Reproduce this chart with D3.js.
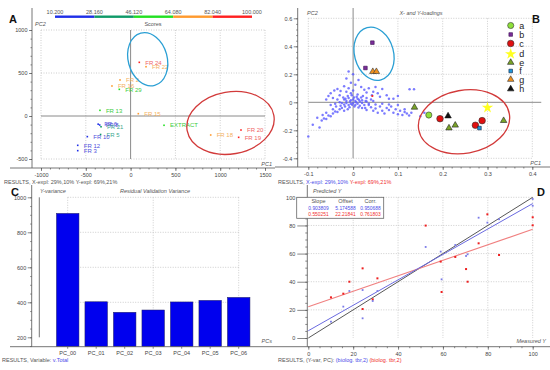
<!DOCTYPE html>
<html lang="en">
<head>
<meta charset="UTF-8">
<title>PLS model panels</title>
<script src="https://d3js.org/d3.v7.min.js"></script>
<style>
  body { margin: 0; background: #fff; }
  svg { font-family: "Liberation Sans", Arial, sans-serif; display: block; }
  .tick text { font-size: 5.5px; fill: #444; }
  .tick line { stroke: #555; stroke-width: 0.7; }
  .frame { stroke: #666; stroke-width: 0.9; }
  .grid { stroke: #b8b8b8; stroke-width: 0.7; stroke-dasharray: 1,1.5; }
  .cross { stroke: #8a8a8a; stroke-width: 1; }
  .name { font-size: 5.5px; fill: #555; font-style: italic; }
  .foot { font-size: 5.5px; fill: #555; }
  .letter { font-size: 11px; font-weight: bold; fill: #111; }
</style>
</head>
<body>
<script>
// ---------- data ----------
// A: scores
const scaleCuts = [10.2, 28.16, 46.12, 64.08, 82.04, 100];
const scaleColors = ["#1f2fe8", "#0f9a68", "#22e022", "#ff9a2e", "#ff2020"];
const labelColors = ["#5050dc", "#40a890", "#3ccc3c", "#f4b060", "#f06464"];
const scoreNames = ["FR 24", "FR 22", "FR 2", "FR 16", "FR 29", "FR 13", "FR 15", "EXTRACT",
  "FR 20", "FR 19", "FR 18", "FR 6", "FR 8", "FR 21", "FR 5", "FR 10", "FR 12", "FR 3"];
const scorePC1 = [97, 172, -118, -208, -126, -342, 86, 373, 1232, 1206, 894, -362, -345, -330, -335, -483, -590, -590];
const scorePC2 = [624, 573, 419, 349, 310, 66, 27, -108, -163, -248, -221, -95, -105, -125, -215, -240, -341, -403];
const scoreGroup = [4, 3, 3, 3, 2, 2, 3, 2, 4, 4, 3, 0, 0, 1, 1, 0, 0, 0];

// B: X- and Y-loadings
const xLoadings = [
  [-0.02,0.02],[-0.015,0.01],[-0.01,0.03],[-0.005,0.015],[0,0.02],[0.005,0.01],[0.01,0.025],[0.015,0.005],
  [0.02,0.015],[-0.025,-0.005],[-0.02,-0.015],[-0.015,-0.005],[-0.01,-0.02],[-0.005,-0.01],[0,-0.005],
  [0.005,-0.02],[0.01,-0.01],[0.015,-0.025],[0.02,-0.005],[-0.012,0.045],[-0.003,0.05],[0.008,0.04],
  [0.018,0.035],[-0.022,0.035],[-0.03,0],[-0.028,-0.025],[-0.018,-0.03],[-0.008,-0.035],[0.003,-0.03],
  [0.012,-0.038],[0.025,-0.02],[0.028,0.01],[0.03,0.03],[0.002,0.035],[-0.007,0.005],[0.007,0],
  [-0.002,-0.018],[0.013,0.018],[-0.017,0.025],[0.022,0.045],[-0.035,0.02],[-0.04,-0.01],[0.035,-0.01],
  [0.04,0.02],[-0.005,0.065],[0.01,0.055],[-0.03,0.05],[0.027,-0.04],
  [-0.01,0.22],[0,0.2],[-0.015,0.17],[0.012,0.16],[-0.005,0.14],[0.005,0.125],[-0.02,0.115],[0.018,0.11],
  [-0.035,0.095],[-0.042,0.085],[-0.028,0.08],[-0.01,0.1],[0.025,0.09],[0.035,0.1],[0.045,0.075],
  [0.055,0.065],[0.065,0.095],[0.03,0.07],[-0.015,0.075],[0,0.085],[-0.05,0.065],[-0.055,0.045],
  [-0.045,0.03],[-0.06,0.02],[0.042,0.05],[0.06,0.04],[0.075,0.05],[0.05,0.11],[0.08,0.025],[0.1,0.045],
  [0.09,0.025],[0.126,0.093],[0.136,0.093],
  [-0.1,-0.245],[-0.09,-0.16],[-0.075,-0.18],[-0.07,-0.13],[-0.065,-0.115],[-0.06,-0.12],[-0.055,-0.095],
  [-0.05,-0.1],[-0.045,-0.08],[-0.04,-0.065],[-0.035,-0.07],[-0.03,-0.05],[-0.025,-0.04],[-0.045,-0.05],
  [-0.06,-0.075],[-0.068,-0.09],[-0.08,-0.11],[-0.038,-0.03],[-0.05,-0.02],[-0.02,-0.06],[-0.012,-0.05],
  [0.02,-0.04],[0.03,-0.055],[0.04,-0.035],[0.045,-0.06],[0.05,-0.045],[0.055,-0.075],[0.06,-0.03],
  [0.065,-0.06],[0.07,-0.08],[0.075,-0.04],[0.08,-0.055],[0.085,-0.03],[0.09,-0.075],[0.095,-0.05],
  [0.1,-0.085],[0.105,-0.06],[0.11,-0.09],[0.115,-0.07],[0.12,-0.08],[0.125,-0.095],[0.13,-0.075],
  [0.115,-0.05],[0.05,-0.015],[0.065,-0.01],[0.08,-0.015],[0.035,-0.02],[0.159,-0.074],[0.15,-0.1],
  [0.1,-0.02],[0.03,0.005],[0.045,0.01]
];
const legendKeys = ["a", "b", "c", "d", "e", "f", "g", "h"];
const yLoadKey = ["b", "b", "g", "g", "e", "e", "e", "e", "a", "c", "c", "c", "h", "f", "d"];
const yLoadPC1 = [0.043, 0.0275, 0.044, 0.052, 0.137, 0.214, 0.228, 0.336, 0.169, 0.194, 0.273, 0.288, 0.212, 0.282, 0.300];
const yLoadPC2 = [0.426, 0.245, 0.219, 0.219, -0.036, -0.184, -0.164, -0.131, -0.091, -0.117, -0.164, -0.131, -0.098, -0.184, -0.038];

// C: residual validation variance
const pcNames = ["PC_00", "PC_01", "PC_02", "PC_03", "PC_04", "PC_05", "PC_06"];
const resVariance = [908, 403, 343, 356, 402, 411, 428];

// D: predicted vs measured
const measuredY = [10.1, 15.6, 18.3, 24.2, 24.2, 28.7, 30.8, 52.3, 59, 59.4, 65.5, 70.3, 71, 75.9, 79.8, 85, 100, 100];
const predBlue = [11.6, 22.3, 33.4, 34.1, 14.0, 26.3, 33.4, 64.7, 61.4, 41.7, 66.1, 58.3, 59.5, 85.5, 82, 84.4, 98.8, 94];
const predRed = [28.9, 31.5, 40, 49.5, 20.6, 27.5, 42.4, 79.9, 54.3, 32.7, 57.6, 49, 40, 67.3, 87.9, 59, 85.8, 80.1];
const statHeads = ["Slope", "Offset", "Corr."];
const statBlue = [0.903809, 5.174588, 0.950688];
const statRed = [0.550251, 22.21841, 0.761803];

// ---------- drawing ----------
const svg = d3.select("body").append("svg").attr("width", 550).attr("height", 370);
const defs = svg.append("defs");
const str = d => String(+(+d).toFixed(3));

function clip(id, x, y, w, h) {
  defs.append("clipPath").attr("id", id).append("rect").attr("x", x).attr("y", y).attr("width", w).attr("height", h);
  return svg.append("g").attr("clip-path", `url(#${id})`);
}
function axis(g, gen, tx, ty) {
  const a = g.append("g").attr("transform", `translate(${tx},${ty})`).call(gen);
  a.select(".domain").remove();
  return a;
}
function line(g, cls, x1, y1, x2, y2) {
  return g.append("line").attr("class", cls).attr("x1", x1).attr("y1", y1).attr("x2", x2).attr("y2", y2);
}
function text(g, cls, x, y, s, anchor) {
  return g.append("text").attr("class", cls).attr("x", x).attr("y", y).attr("text-anchor", anchor || "start").text(s);
}
function ring(g, cx, cy, rx, ry, rot, color) {
  g.append("ellipse").attr("transform", `translate(${cx},${cy}) rotate(${rot})`)
    .attr("rx", rx).attr("ry", ry).attr("fill", "none").attr("stroke", color).attr("stroke-width", 1.3);
}

// ===== Panel A =====
const gA = clip("clipA", 0, 0, 275, 185);
const xA = d3.scaleLinear().domain([-1000, 1500]).range([41, 265]);
const yA = d3.scaleLinear().domain([-500, 1000]).range([159, 30]);

gA.selectAll("line.gx").data([-1000, -500, 500, 1000, 1500]).enter().append("line").attr("class", "grid")
  .attr("x1", xA).attr("x2", xA).attr("y1", yA(1000)).attr("y2", yA(-500));
gA.selectAll("line.gy").data([1000, 500, -500]).enter().append("line").attr("class", "grid")
  .attr("x1", xA(-1000)).attr("x2", xA(1500)).attr("y1", yA).attr("y2", yA);
line(gA, "cross", xA(0), yA(1000), xA(0), yA(-500));
line(gA, "cross", xA(-1000), yA(0), xA(1500), yA(0));

line(gA, "frame", 32, 8, 32, 168);
line(gA, "frame", 10, 168, 275, 168);
axis(gA, d3.axisLeft(yA).tickValues([-500, 0, 500, 1000]).tickSize(3).tickPadding(1.5).tickFormat(str), 32, 0);
axis(gA, d3.axisLeft(yA).tickValues(d3.range(-500, 1001, 100)).tickSize(1.5).tickFormat(""), 32, 0);
axis(gA, d3.axisBottom(xA).tickValues(d3.range(-1000, 1501, 500)).tickSize(3).tickPadding(2).tickFormat(str), 0, 168);
axis(gA, d3.axisBottom(xA).tickValues(d3.range(-1000, 1501, 100)).tickSize(1.5).tickFormat(""), 0, 168);

// colour bar
const xSeg = d3.scaleLinear().domain([0, 5]).range([55, 252]);
gA.selectAll("rect.seg").data(scaleColors).enter().append("rect")
  .attr("x", (d, i) => xSeg(i)).attr("width", (d, i) => xSeg(i + 1) - xSeg(i))
  .attr("y", 15.5).attr("height", 2.4).attr("fill", d => d);
gA.selectAll("text.cut").data(scaleCuts).enter().append("text").attr("class", "foot")
  .attr("x", (d, i) => xSeg(i)).attr("y", 13.5).attr("text-anchor", "middle").text(d3.format(".3f"));

text(gA, "name", 35, 26, "PC2");
text(gA, "foot", 153, 26, "Scores", "middle");
text(gA, "name", 272, 166, "PC1", "end");

gA.selectAll("rect.pt").data(scoreNames).enter().append("rect")
  .attr("x", (d, i) => xA(scorePC1[i]) - 0.8).attr("y", (d, i) => yA(scorePC2[i]) - 0.8)
  .attr("width", 1.6).attr("height", 1.6).attr("fill", (d, i) => scaleColors[scoreGroup[i]]);
gA.selectAll("text.lab").data(scoreNames).enter().append("text")
  .attr("x", (d, i) => xA(scorePC1[i]) + 6).attr("y", (d, i) => yA(scorePC2[i]) + 2.2)
  .attr("font-size", "6px").attr("fill", (d, i) => labelColors[scoreGroup[i]]).text(d => d);

ring(gA, xA(191), yA(660), 19.5, 27, -15, "#2a9fd4");
ring(gA, xA(1115), yA(-81), 44, 31, -10, "#d23a3a");

text(svg, "letter", 9, 23, "A");
svg.append("text").attr("class", "foot").attr("x", 4).attr("y", 183.5)
  .text("RESULTS, X-expl: 29%,10% Y-expl: 69%,21%");

// ===== Panel B =====
const gB = clip("clipB", 275, 0, 275, 185);
const xB = d3.scaleLinear().domain([-0.1, 0.4]).range([308.3, 532.3]);
const yB = d3.scaleLinear().domain([-0.4, 0.6]).range([158.3, 18.3]);

gB.selectAll("line.gx").data([-0.1, 0.1, 0.2, 0.3, 0.4]).enter().append("line").attr("class", "grid")
  .attr("x1", xB).attr("x2", xB).attr("y1", yB(0.6)).attr("y2", yB(-0.4));
gB.selectAll("line.gy").data([0.6, 0.4, 0.2, -0.2, -0.4]).enter().append("line").attr("class", "grid")
  .attr("x1", xB(-0.1)).attr("x2", xB(0.4)).attr("y1", yB).attr("y2", yB);
line(gB, "cross", xB(0), 8, xB(0), yB(-0.4));
line(gB, "cross", xB(-0.1), yB(0), xB(0.42), yB(0));

line(gB, "frame", 297.7, 8, 297.7, 167);
line(gB, "frame", 275, 167, 550, 167);
axis(gB, d3.axisLeft(yB).tickValues([-0.4, -0.2, 0, 0.2, 0.4, 0.6]).tickSize(4).tickPadding(1.5).tickFormat(str), 297.7, 0);
axis(gB, d3.axisLeft(yB).tickValues(d3.range(-0.4, 0.61, 0.04)).tickSize(1.5).tickFormat(""), 297.7, 0);
axis(gB, d3.axisBottom(xB).tickValues([-0.1, 0, 0.1, 0.2, 0.3, 0.4]).tickSize(3).tickPadding(2).tickFormat(str), 0, 167);
axis(gB, d3.axisBottom(xB).tickValues(d3.range(-0.1, 0.41, 0.02)).tickSize(1.5).tickFormat(""), 0, 167);

text(gB, "name", 307, 15, "PC2");
text(gB, "name", 421, 15, "X- and Y-loadings", "middle");
text(gB, "name", 541, 165, "PC1", "end");

gB.selectAll("circle.xl").data(xLoadings).enter().append("circle")
  .attr("cx", d => xB(d[0])).attr("cy", d => yB(d[1])).attr("r", 1.25)
  .attr("fill", "#5a5aff").attr("fill-opacity", 0.8);
gB.append("circle").attr("cx", xB(0.043)).attr("cy", yB(0.045)).attr("r", 1.1).attr("fill", "#ff2020");

const keyStyle = {
  a: { shape: d3.symbolCircle, size: 30, fill: "#8ee03a", stroke: "#333" },
  b: { shape: d3.symbolSquare, size: 13, fill: "#7b2c9a", stroke: "#3a1050" },
  c: { shape: d3.symbolCircle, size: 34, fill: "#e01010", stroke: "#333" },
  d: { shape: d3.symbolStar, size: 40, fill: "#ffff20", stroke: "none" },
  e: { shape: d3.symbolTriangle, size: 18, fill: "#7aa428", stroke: "#222" },
  f: { shape: d3.symbolSquare, size: 13, fill: "#1e96d8", stroke: "#124" },
  g: { shape: d3.symbolTriangle, size: 18, fill: "#f0901c", stroke: "#333" },
  h: { shape: d3.symbolTriangle, size: 18, fill: "#111", stroke: "#111" }
};
const sym = k => d3.symbol().type(keyStyle[k].shape).size(keyStyle[k].size)();

gB.selectAll("path.yl").data(yLoadKey).enter().append("path")
  .attr("transform", (d, i) => `translate(${xB(yLoadPC1[i])},${yB(yLoadPC2[i])})`)
  .attr("d", sym).attr("fill", d => keyStyle[d].fill)
  .attr("stroke", d => keyStyle[d].stroke).attr("stroke-width", 0.6);

ring(gB, xB(0.0467), yB(0.347), 19.5, 27, -15, "#2a9fd4");
ring(gB, xB(0.2476), yB(-0.139), 46, 31.5, -10, "#d23a3a");

const legY = [25.5, 34.5, 43.5, 54, 62.5, 71, 79.5, 89];
const leg = gB.selectAll("g.leg").data(legendKeys).enter().append("g")
  .attr("transform", (d, i) => `translate(510.7,${legY[i]})`);
leg.append("path").attr("d", sym).attr("fill", d => keyStyle[d].fill)
  .attr("stroke", d => keyStyle[d].stroke).attr("stroke-width", 0.6);
leg.append("text").attr("x", 8.5).attr("y", 3.2).attr("font-size", "9px").attr("fill", "#222").text(d => d);

text(svg, "letter", 532, 23, "B");
const footB = svg.append("text").attr("class", "foot").attr("x", 278).attr("y", 183.5);
footB.append("tspan").text("RESULTS, ");
footB.append("tspan").attr("fill", "#4a4ae8").text("X-expl: 29%,10%");
footB.append("tspan").attr("fill", "#f03030").text(" Y-expl: 69%,21%");

// ===== Panel C =====
const gC = clip("clipC", 0, 185, 275, 185);
const yC = d3.scaleLinear().domain([200, 1000]).range([337.3, 197.3]);
const xC = d3.scaleBand().domain(pcNames).range([53.45, 252.95]).paddingInner(0.21).paddingOuter(0.105);
const baseC = 346.7;

gC.selectAll("line.gy").data([1000, 800, 600, 400]).enter().append("line").attr("class", "grid")
  .attr("x1", xC("PC_00") + xC.bandwidth() / 2).attr("x2", xC("PC_06") + xC.bandwidth() / 2)
  .attr("y1", yC).attr("y2", yC);
gC.selectAll("line.gx").data(["PC_00", "PC_03", "PC_06"]).enter().append("line").attr("class", "grid")
  .attr("x1", d => xC(d) + xC.bandwidth() / 2).attr("x2", d => xC(d) + xC.bandwidth() / 2)
  .attr("y1", yC(1000)).attr("y2", baseC);

gC.selectAll("rect.bar").data(resVariance).enter().append("rect")
  .attr("x", (d, i) => xC(pcNames[i])).attr("width", xC.bandwidth())
  .attr("y", d => yC(d)).attr("height", d => baseC - yC(d))
  .attr("fill", "#0000ee").attr("stroke", "#202060").attr("stroke-width", 0.5);

line(gC, "frame", 31.7, 185, 31.7, baseC);
line(gC, "frame", 39.3, yC(1000), 39.3, yC(200));
line(gC, "frame", 10, baseC, 275, baseC);
axis(gC, d3.axisLeft(yC).tickValues([200, 400, 600, 800, 1000]).tickSize(4).tickPadding(1.5).tickFormat(str), 31.7, 0);
axis(gC, d3.axisLeft(yC).tickValues(d3.range(150, 1001, 50)).tickSize(1.5).tickFormat(""), 31.7, 0);
axis(gC, d3.axisBottom(xC).tickSize(2).tickPadding(2.5), 0, baseC);

text(gC, "name", 40, 193, "Y-variance");
text(gC, "name", 155, 193, "Residual Validation Variance", "middle");
text(gC, "name", 272, 343, "PCs", "end");

text(svg, "letter", 11, 196, "C");
const footC = svg.append("text").attr("class", "foot").attr("x", 2).attr("y", 361.5);
footC.append("tspan").text("RESULTS, Variable: ");
footC.append("tspan").attr("fill", "#4a4ae8").text("v.Total");

// ===== Panel D =====
const gD = clip("clipD", 275, 185, 275, 185);
const xD = d3.scaleLinear().domain([0, 100]).range([308.3, 532.7]);
const yD = d3.scaleLinear().domain([0, 100]).range([338, 197.3]);
const baseD = 346.7;

gD.selectAll("line.gx").data([20, 40, 60, 80, 100]).enter().append("line").attr("class", "grid")
  .attr("x1", xD).attr("x2", xD).attr("y1", yD(100)).attr("y2", yD(0));
gD.selectAll("line.gy").data([20, 40, 60, 80, 100]).enter().append("line").attr("class", "grid")
  .attr("x1", xD(0)).attr("x2", xD(100)).attr("y1", yD).attr("y2", yD);

line(gD, "frame", 307.3, 185, 307.3, baseD);
line(gD, "frame", 275, baseD, 550, baseD);
axis(gD, d3.axisLeft(yD).tickValues(d3.range(0, 101, 20)).tickSize(10).tickPadding(2).tickFormat(str), 307.3, 0);
axis(gD, d3.axisLeft(yD).tickValues(d3.range(0, 101, 5)).tickSize(2).tickFormat(""), 307.3, 0);
axis(gD, d3.axisBottom(xD).tickValues(d3.range(0, 101, 20)).tickSize(3).tickPadding(2).tickFormat(str), 0, baseD);
axis(gD, d3.axisBottom(xD).tickValues(d3.range(0, 101, 5)).tickSize(1.5).tickFormat(""), 0, baseD);

const fit = (slope, off) => [[0, off], [100, slope * 100 + off]];
const lineD = d3.line().x(d => xD(d[0])).y(d => yD(d[1]));
gD.append("path").attr("d", lineD([[0, 0], [100, 100]])).attr("stroke", "#444").attr("stroke-width", 0.9).attr("fill", "none");
gD.append("path").attr("d", lineD(fit(statRed[0], statRed[1]))).attr("stroke", "#f08080").attr("stroke-width", 1.1).attr("fill", "none");
gD.append("path").attr("d", lineD(fit(statBlue[0], statBlue[1]))).attr("stroke", "#6a6ae0").attr("stroke-width", 1).attr("fill", "none");

gD.selectAll("rect.pr").data(predRed).enter().append("rect")
  .attr("x", (d, i) => xD(measuredY[i]) - 1).attr("y", d => yD(d) - 1)
  .attr("width", 2).attr("height", 2).attr("fill", "#ee2020");
gD.selectAll("rect.pb").data(predBlue).enter().append("rect")
  .attr("x", (d, i) => xD(measuredY[i]) - 0.9).attr("y", d => yD(d) - 0.9)
  .attr("width", 1.8).attr("height", 1.8).attr("fill", "#7a7ae8");

text(gD, "name", 313, 193, "Predicted Y");
text(gD, "name", 546, 343, "Measured Y", "end");

// stats box
gD.append("rect").attr("x", 296.7).attr("y", 197.3).attr("width", 87).attr("height", 21)
  .attr("fill", "#fff").attr("stroke", "#666").attr("stroke-width", 0.8);
const colX = [318.5, 345.5, 370.5];
gD.selectAll("text.sh").data(statHeads).enter().append("text").attr("class", "foot")
  .attr("x", (d, i) => colX[i]).attr("y", 202.7).attr("text-anchor", "middle").text(d => d);
gD.selectAll("text.sb").data(statBlue).enter().append("text")
  .attr("x", (d, i) => colX[i]).attr("y", 209.6).attr("text-anchor", "middle")
  .attr("font-size", "4.9px").attr("fill", "#4a4ae8").text(d => d3.format(".6f")(d).slice(0, 8));
gD.selectAll("text.sr").data(statRed).enter().append("text")
  .attr("x", (d, i) => colX[i]).attr("y", 216.4).attr("text-anchor", "middle")
  .attr("font-size", "4.9px").attr("fill", "#f03030").text(d => d3.format(".6f")(d).slice(0, 8));

text(svg, "letter", 537, 196, "D");
const footD = svg.append("text").attr("class", "foot").attr("x", 278).attr("y", 361.5);
footD.append("tspan").text("RESULTS, (Y-var, PC): ");
footD.append("tspan").attr("fill", "#4a4ae8").text("(biolog. tbr,2)");
footD.append("tspan").text(" ");
footD.append("tspan").attr("fill", "#f03030").text("(biolog. tbr,2)");
</script>
</body>
</html>
